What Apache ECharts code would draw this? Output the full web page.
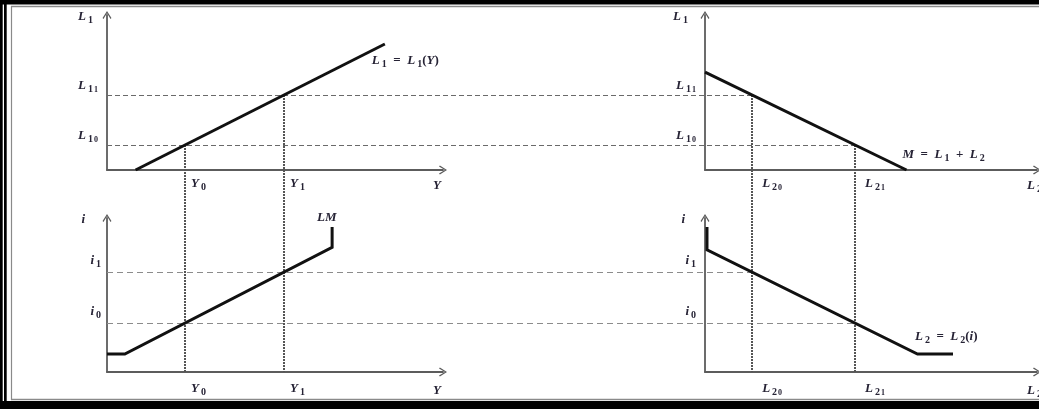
<!DOCTYPE html>
<html>
<head>
<meta charset="utf-8">
<style>
  html, body { margin: 0; padding: 0; background: #fff; }
  #chart { width: 1039px; height: 409px; }
</style>
<script src="https://cdn.jsdelivr.net/npm/echarts@6.0.0/dist/echarts.min.js"></script>
</head>
<body>
<div id="chart"></div>
<script>
// Equilibrium levels on each axis (index 0 = initial, index 1 = new)
const yLevels  = [2.32, 5.27];   // Y0, Y1
const l1Levels = [1.61, 4.84];   // L1_0, L1_1
const l2Levels = [1.42, 4.52];   // L2_0, L2_1
const iLevels  = [3.18, 6.49];   // i0, i1

// Curves
const l1Curve   = [[0.85, 0], [8.27, 8.13]];                                 // L1 = L1(Y)
const moneyLine = [[0, 6.32], [6.07, 0]];                                    // M = L1 + L2
const lmCurve   = [[0, 1.17], [0.53, 1.17], [6.70, 8.09], [6.70, 9.42]];     // LM
const l2Curve   = [[0.06, 9.42], [0.06, 7.94], [6.40, 1.17], [7.47, 1.17]];  // L2 = L2(i)

// Tick labels (rich-text markup)
const yTickLabels  = ['{m|Y}{s|0}', '{m|Y}{s|1}'];
const l1TickLabels = ['{m|L}{s|1}{ss|0}', '{m|L}{s|1}{ss|1}'];
const l2TickLabels = ['{m|L}{s|2}{ss|0}', '{m|L}{s|2}{ss|1}'];
const iTickLabels  = ['{m|i}{s|0}', '{m|i}{s|1}'];

const FONT = 'Liberation Serif';
const INK = '#262335';
const rich = {
  m:  { fontFamily: FONT, fontStyle: 'italic', fontWeight: 'bold', fontSize: 13, color: INK, lineHeight: 17 },
  u:  { fontFamily: FONT, fontWeight: 'bold', fontSize: 13, color: INK, lineHeight: 17 },
  s:  { fontFamily: FONT, fontWeight: 'bold', fontSize: 10, color: INK, lineHeight: 13, verticalAlign: 'bottom', padding: [0, 0, 0, 2] },
  ss: { fontFamily: FONT, fontWeight: 'bold', fontSize: 8, color: INK, lineHeight: 8, verticalAlign: 'top', padding: [9, 0, 0, 1] }
};

// Open chevron arrow head, pointing up in its own frame
const ARROW = 'path://M5,0 L10,8 L9,9 L5,2.4 L1,9 L0,8 Z';
const AXIS_LINE = { show: true, onZero: false, symbol: ['none', ARROW], symbolSize: [9, 8],
                    lineStyle: { color: '#5c5c5c', width: 1.8 } };

const grids = [
  { left: 107, top: 15,  width: 336, height: 155 },
  { left: 705, top: 15,  width: 332, height: 155 },
  { left: 107, top: 218, width: 336, height: 154 },
  { left: 705, top: 218, width: 332, height: 154 }
].map(g => Object.assign(g, { containLabel: false, outerBoundsMode: 'none' }));

function xAxis(gridIndex, name, values, labels, namePadTop, labelPadLeft, labelMargin) {
  return {
    type: 'value', gridIndex, min: 0, max: 10,
    name, nameLocation: 'end', nameGap: -10,
    nameTextStyle: { rich, align: 'left', verticalAlign: 'top', padding: [namePadTop, 0, 0, 0] },
    axisLine: AXIS_LINE, axisTick: { show: false }, splitLine: { show: false },
    axisLabel: {
      customValues: values, rich, align: 'left', verticalAlign: 'top',
      margin: labelMargin, padding: [0, 0, 0, labelPadLeft],
      formatter: v => labels[values.indexOf(v)] || ''
    }
  };
}

function yAxis(gridIndex, name, values, labels, namePadRight, labelMargin, labelPadBottom) {
  return {
    type: 'value', gridIndex, min: 0, max: 10,
    name, nameLocation: 'end', nameGap: -2,
    nameTextStyle: { rich, align: 'right', verticalAlign: 'middle', padding: [0, namePadRight, 0, 0] },
    axisLine: AXIS_LINE, axisTick: { show: false }, splitLine: { show: false },
    axisLabel: {
      customValues: values, rich, align: 'right', verticalAlign: 'bottom',
      margin: labelMargin, padding: [0, 0, labelPadBottom, 0],
      formatter: v => labels[values.indexOf(v)] || ''
    }
  };
}

function curve(gridIndex, data, label, offset) {
  return {
    type: 'line', xAxisIndex: gridIndex, yAxisIndex: gridIndex, data,
    symbol: 'none', silent: true, z: 5,
    lineStyle: { color: '#111', width: 3, join: 'miter' },
    endLabel: { show: true, formatter: label, rich, distance: 0, offset }
  };
}

const chart = echarts.init(document.getElementById('chart'), null, { renderer: 'canvas' });

chart.setOption({
  animation: false,
  backgroundColor: '#fff',
  grid: grids,
  xAxis: [
    xAxis(0, '{m|Y}', yLevels, yTickLabels, 7, 6, 5),
    xAxis(1, '{m|L}{s|2}', l2Levels, l2TickLabels, 7, 10, 5),
    xAxis(2, '{m|Y}', yLevels, yTickLabels, 10, 6, 8),
    xAxis(3, '{m|L}{s|2}', l2Levels, l2TickLabels, 10, 10, 8)
  ],
  yAxis: [
    yAxis(0, '{m|L}{s|1}', l1Levels, l1TickLabels, 14, 9, 1),
    yAxis(1, '{m|L}{s|1}', l1Levels, l1TickLabels, 17, 9, 1),
    yAxis(2, '{m|i}', iLevels, iTickLabels, 22, 6, 3),
    yAxis(3, '{m|i}', iLevels, iTickLabels, 20, 9, 3)
  ],
  series: [
    curve(0, l1Curve, '{m|L}{s|1}{u|  =  }{m|L}{s|1}{u|(}{m|Y}{u|)}', [-13, 17]),
    curve(1, moneyLine, '{m|M}{u|  =  }{m|L}{s|1}{u|  +  }{m|L}{s|2}', [-4, -15]),
    curve(2, lmCurve, '{m|LM}', [-15, -9]),
    curve(3, l2Curve, '{m|L}{s|2}{u|  =  }{m|L}{s|2}{u|(}{m|i}{u|)}', [-38, -17])
  ]
});

// Guide lines linking the four panels, placed through each grid's scales
const px = (g, pt) => chart.convertToPixel({ gridIndex: g }, pt);
const dashTop = { stroke: '#6a6a6a', lineWidth: 1, lineDash: [5, 3] };
const dashBottom = { stroke: '#8c8c8c', lineWidth: 1, lineDash: [6, 4] };
const dotted = { stroke: '#555', lineWidth: 2, lineDash: [2, 1] };
const guides = [];
function seg(a, b, style, snap) {
  const s = v => Math.round(v) + snap;
  const vertical = Math.abs(a[0] - b[0]) < 1;
  const x1 = vertical ? s(a[0]) : a[0], x2 = vertical ? s(b[0]) : b[0];
  const y1 = vertical ? a[1] : s(a[1]), y2 = vertical ? b[1] : s(b[1]);
  guides.push({ type: 'line', silent: true, z: 1, shape: { x1, y1, x2, y2 }, style });
}
// L1_0 meets L2_1 and L1_1 meets L2_0 on the money line
l1Levels.forEach((v, k) => seg(px(0, [0, v]), px(1, [l2Levels[1 - k], v]), dashTop, 0.5));
// i0 meets L2_1 and i1 meets L2_0 on the speculative demand curve
iLevels.forEach((v, k) => seg(px(2, [0, v]), px(3, [l2Levels[1 - k], v]), dashBottom, 0.5));
// Income levels dropped from L1(Y) to the LM panel
yLevels.forEach((v, k) => seg(px(0, [v, l1Levels[k]]), px(2, [v, 0]), dotted, 0));
// Speculative balances dropped from the money line to the L2(i) panel
l2Levels.forEach((v, k) => seg(px(1, [v, l1Levels[1 - k]]), px(3, [v, 0]), dotted, 0));

// Page frame
const W = 1039, H = 409;
const frame = [
  { type: 'rect', shape: { x: 0, y: 0, width: W, height: 4.5 }, style: { fill: '#000' } },
  { type: 'rect', shape: { x: 0, y: 401, width: W, height: 8 }, style: { fill: '#000' } },
  { type: 'rect', shape: { x: 0, y: 0, width: 2.7, height: H }, style: { fill: '#000' } },
  { type: 'rect', shape: { x: 4, y: 0, width: 2.7, height: H }, style: { fill: '#000' } },
  { type: 'line', shape: { x1: 11, y1: 6.5, x2: W, y2: 6.5 }, style: { stroke: '#8a8a8a', lineWidth: 1.5 } },
  { type: 'line', shape: { x1: 11, y1: 399.5, x2: W, y2: 399.5 }, style: { stroke: '#8a8a8a', lineWidth: 1.5 } },
  { type: 'line', shape: { x1: 11.5, y1: 6, x2: 11.5, y2: 400 }, style: { stroke: '#8a8a8a', lineWidth: 1.2 } }
].map(e => Object.assign(e, { silent: true, z: 0 }));

chart.setOption({ graphic: frame.concat(guides) });
</script>
</body>
</html>
